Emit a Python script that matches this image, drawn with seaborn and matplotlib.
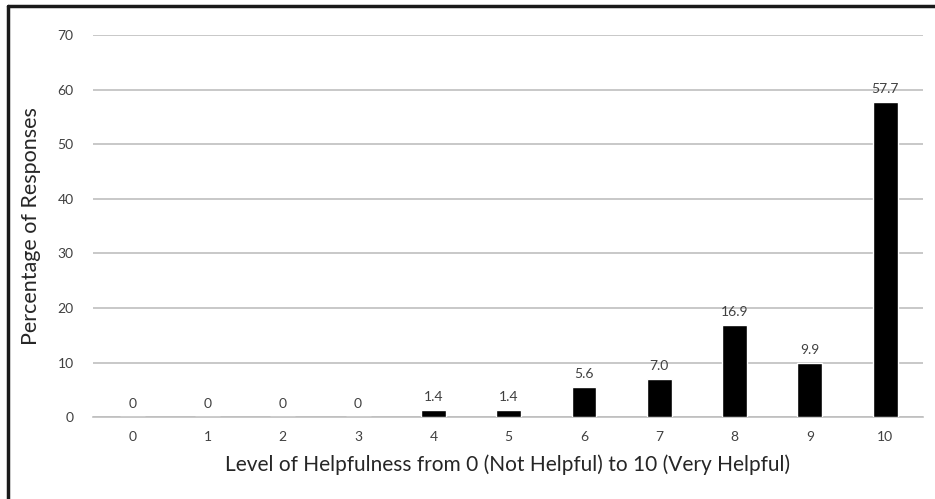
import matplotlib
matplotlib.use("Agg")
import matplotlib.pyplot as plt
import seaborn as sns
import pandas as pd
from matplotlib.lines import Line2D

# data
levels = ["0", "1", "2", "3", "4", "5", "6", "7", "8", "9", "10"]
percentages = [0, 0, 0, 0, 1.4, 1.4, 5.6, 7.0, 16.9, 9.9, 57.7]
value_labels = ["0", "0", "0", "0", "1.4", "1.4", "5.6", "7.0", "16.9", "9.9", "57.7"]
y_ticks = [0, 10, 20, 30, 40, 50, 60, 70]

sns.set_theme(style="white")
plt.rcParams['font.family'] = ['Lato', 'DejaVu Sans']

df = pd.DataFrame({"level": levels, "pct": percentages})

fig = plt.figure(figsize=(9.35, 4.99), dpi=100)
ax = fig.add_axes([0.0995, 0.164, 0.8875, 0.766])

sns.barplot(data=df, x="level", y="pct", color="black", width=0.33,
            saturation=1, ax=ax, zorder=3)

text_col = "#404040"
ax.set_ylim(0, 70)
ax.set_xlim(-0.52, 10.5)
ax.set_yticks(y_ticks)
ax.yaxis.grid(True, color="#bfbfbf", linewidth=1.2, zorder=0)
ax.set_axisbelow(True)
for s in ["top", "right", "left"]:
    ax.spines[s].set_visible(False)
ax.spines["bottom"].set_color("#bfbfbf")
ax.spines["bottom"].set_linewidth(1.2)
ax.tick_params(axis="both", length=0, labelsize=10, colors=text_col, pad=10)
ax.tick_params(axis="y", pad=14)

ax.bar_label(ax.containers[0], labels=value_labels, padding=5,
             fontsize=10, color=text_col)

ax.set_xlabel("Level of Helpfulness from 0 (Not Helpful) to 10 (Very Helpful)",
              fontsize=15, color="#262626", labelpad=8)
ax.set_ylabel("Percentage of Responses", fontsize=15.5, color="#262626", labelpad=12)

# frame on top and left edges of the picture
fig.add_artist(Line2D([0.0086, 1.0], [0.988, 0.988], color="#1a1a1a", lw=2.5,
                      transform=fig.transFigure))
fig.add_artist(Line2D([0.0086, 0.0086], [0.0, 0.988], color="#1a1a1a", lw=2.5,
                      transform=fig.transFigure))

fig.savefig("out.png", dpi=100)
